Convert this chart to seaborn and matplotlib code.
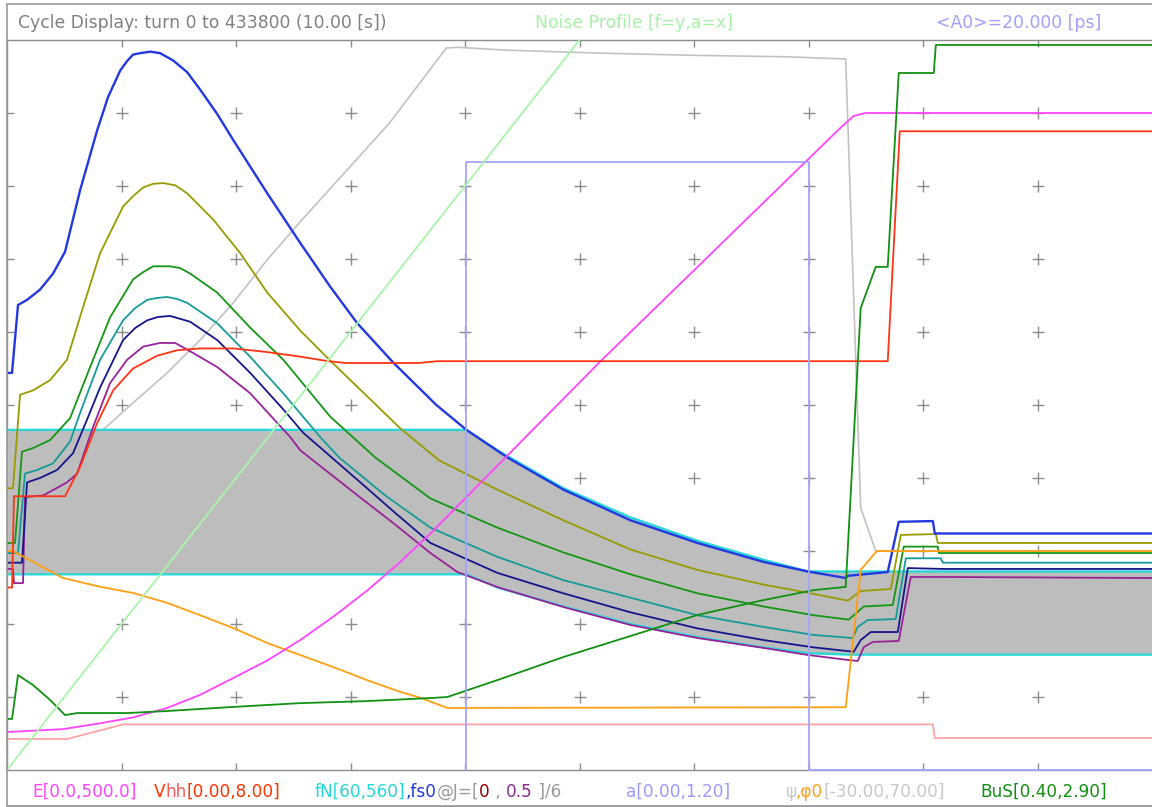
import numpy as np
import matplotlib
matplotlib.use("Agg")
import matplotlib.pyplot as plt
from matplotlib.lines import Line2D
import seaborn as sns

sns.set_theme(style="white")
plt.rcParams["font.family"] = ["DejaVu Sans"]
plt.rcParams["axes.grid"] = False

W, H, DPI = 1152, 807, 100
T_END = 10.0

# ---- synchrotron cycle, time in seconds ----
# synchrotron frequency fs0 [Hz] for J = 0, 0.1 ... 0.5
fs0_j0_t = [0, 0.044, 0.096, 0.175, 0.288, 0.402, 0.507, 0.638, 0.787, 0.883, 0.988, 1.049, 1.101, 1.163,
            1.250, 1.337, 1.451, 1.573, 1.687, 1.836, 1.976, 2.273, 2.561, 2.823, 3.059, 3.374, 3.750, 4.012,
            4.371, 4.860, 5.446, 6.031, 6.608, 6.993, 7.325, 7.343, 7.692, 7.788, 8.086, 8.103, 10.0]
fs0_j0_f = [332, 332, 378.5, 382, 389, 400, 415, 457, 498, 521, 539, 545.6, 550, 551, 552, 551, 546, 538, 526,
            509.3, 491.5, 455, 421, 391, 366, 339, 310, 293, 274, 252, 231, 215.5, 202.5, 196, 191.5, 193,
            195.6, 230, 230.5, 222, 222]

fs0_j1_t = [0, 0.052, 0.114, 0.227, 0.376, 0.524, 0.664, 0.813, 1.014, 1.101, 1.189, 1.276, 1.364, 1.469,
            1.573, 1.801, 2.037, 2.273, 2.561, 2.815, 3.435, 3.776, 4.283, 4.860, 5.446, 6.031, 6.608, 7.019,
            7.343, 7.386, 7.456, 7.719, 7.806, 8.112, 8.129, 10.0]
fs0_j1_f = [253, 253, 317, 320, 327, 341, 377, 414, 446, 453, 459, 461.5, 462, 460.5, 455, 437, 414, 387, 361,
            341, 294, 272, 252, 231, 211, 197, 187, 181, 176, 178.5, 182.6, 184, 221, 221.6, 215.5, 215.5]

fs0_j2_t = [0, 0.070, 0.131, 0.227, 0.376, 0.551, 0.726, 0.900, 1.101, 1.189, 1.276, 1.425, 1.512, 1.600,
            1.836, 2.124, 2.413, 2.823, 3.217, 3.698, 4.283, 4.860, 5.446, 6.031, 6.608, 7.045, 7.351, 7.395,
            7.483, 7.736, 7.832, 8.129, 8.138, 10.0]
fs0_j2_f = [215.5, 215.5, 278, 280.5, 286, 301, 336, 370, 396, 401, 405, 405, 403.8, 400, 387, 363, 341, 302,
            274, 246, 226, 209, 194, 181, 172, 166, 163, 166, 172, 173, 213, 213, 208.6, 208.6]

fs0_j3_t = [0, 0.096, 0.157, 0.262, 0.402, 0.551, 0.638, 0.813, 1.014, 1.119, 1.224, 1.311, 1.399, 1.486,
            1.573, 1.836, 2.124, 2.413, 2.736, 2.902, 3.304, 3.698, 4.283, 4.860, 5.446, 6.031, 6.608, 7.045,
            7.386, 7.430, 7.517, 7.762, 7.850, 8.155, 8.173, 10.0]
fs0_j3_f = [208.6, 208.6, 263, 265.5, 270, 285, 304.5, 341, 368, 376.4, 382, 383.3, 384, 382.6, 380, 366, 343,
            318, 288, 274, 248, 226, 206, 190, 178, 166, 158, 152.5, 150.4, 158, 162.7, 163.4, 205, 205, 202,
            202]

fs0_j4_t = [0, 0.131, 0.175, 0.288, 0.437, 0.577, 0.699, 0.813, 1.014, 1.119, 1.224, 1.320, 1.425, 1.600,
            1.836, 2.124, 2.413, 2.587, 3.086, 3.392, 3.698, 4.283, 4.860, 5.446, 6.031, 6.608, 7.045, 7.395,
            7.456, 7.544, 7.780, 7.867, 8.182, 10.0]
fs0_j4_f = [202, 202, 257, 260, 265.5, 277, 300, 322, 354.5, 362.7, 368, 370.3, 371, 367, 354.5, 332, 307, 291,
            257, 236, 215.5, 195, 181, 168, 157, 149, 144, 141, 149, 154.5, 154.5, 198.3, 197.7, 197.7]

fs0_j5_t = [0, 0.052, 0.061, 0.140, 0.157, 0.315, 0.524, 0.612, 0.752, 0.900, 1.049, 1.189, 1.337, 1.469,
            1.626, 1.836, 2.124, 2.474, 2.561, 3.086, 3.392, 3.698, 3.934, 4.283, 4.860, 5.446, 6.031, 6.608,
            6.993, 7.351, 7.430, 7.483, 7.561, 7.788, 7.893, 8.199, 10.0]
fs0_j5_f = [197.7, 197.7, 188, 188, 247, 248, 257, 263, 295, 325, 341, 350, 352.5, 352.5, 345.6, 336, 318, 288,
            279, 246.6, 228, 208.6, 195.6, 185.3, 171.6, 159.3, 150.4, 143.6, 138.8, 135.3, 134.7, 144.2, 147.7,
            148.4, 192.2, 192.2, 191.5]

# bucket frequency band fN [Hz]
band_t = [0, 4.012, 4.283, 4.371, 4.860, 5.446, 6.031, 6.608, 6.993, 7.351, 10.0]
band_hi = [293, 293, 279, 275, 253, 233, 217, 204, 196, 196, 196]
band_lo = [194, 194, 185, 183, 172, 160, 151, 144, 140, 139, 139]

# RF voltages Vhh [kV]
vhh_t = [0, 0.044, 0.061, 0.507, 0.638, 0.787, 0.927, 1.101, 1.311, 1.486, 1.687, 1.976, 2.273, 2.561, 2.806,
         2.963, 3.593, 3.759, 7.692, 7.797, 10.0]
vhh_v = [2.0, 2.0, 3.0, 3.0, 3.32, 3.80, 4.16, 4.40, 4.54, 4.60, 4.62, 4.62, 4.58, 4.53, 4.48, 4.46, 4.46, 4.48,
         4.48, 7.0, 7.0]
vhh2_t = [0, 0.524, 1.014, 8.086, 8.103, 10.0]
vhh2_v = [0.34, 0.34, 0.50, 0.50, 0.35, 0.35]

# beam energy E [MeV]
e_t = [0, 0.490, 0.813, 1.101, 1.399, 1.687, 1.976, 2.273, 2.561, 2.850, 3.147, 3.435, 3.698, 5.184, 7.019,
       7.281, 7.395, 7.500, 10.0]
e_v = [26, 28, 32, 36, 42.5, 51.5, 63, 75, 89, 105, 123, 142.5, 162, 280, 420, 440, 448, 450, 450]

# phases psi and phi0 [deg]
psi_t = [0, 0.839, 1.101, 1.399, 1.687, 1.976, 2.273, 2.561, 3.339, 3.837, 3.934, 4.371, 5.184,
         5.997, 6.810, 7.325, 7.456, 7.587, 10.0]
psi_v = [4.9, 16.6, 20.3, 24.4, 28.9, 34.0, 39.9, 45.1, 58.6, 68.9, 69.0, 68.6, 68.2, 67.9, 67.7,
         67.4, 5.9, 0, 0]
phi_t = [0, 0.052, 0.490, 0.813, 1.101, 1.399, 1.687, 1.976, 2.273, 2.561, 2.850, 3.147, 3.435, 3.610, 3.846,
         7.325, 7.456, 7.597, 10.0]
phi_v = [0, 0, -3.7, -4.9, -5.75, -7.1, -8.8, -10.55, -12.6, -14.25, -15.9, -17.7, -19.3, -20.1, -21.5, -21.4,
         -2.6, 0, 0]

# bunching factor BuS
bus_t = [0, 0.044, 0.096, 0.227, 0.376, 0.507, 0.612, 1.049, 1.399, 1.976, 2.561, 3.147, 3.724, 3.846, 4.283,
         4.860, 5.446, 6.031, 6.608, 7.045, 7.325, 7.456, 7.587, 7.692, 7.788, 8.094, 8.112, 10.0]
bus_v = [0.575, 0.575, 0.725, 0.691, 0.640, 0.588, 0.595, 0.595, 0.602, 0.616, 0.629, 0.636, 0.647, 0.650, 0.708,
         0.787, 0.859, 0.931, 0.982, 1.016, 1.027, 1.982, 2.123, 2.123, 2.787, 2.787, 2.883, 2.883]

# noise amplitude window a
a_t = [4.01, 4.01, 7.006, 7.006, 10.0]
a_v = [0, 1.0, 1.0, 0, 0]

# noise profile (a on x, f on y, as fractions)
noise_a = [0.0, 0.5]
noise_f = [0.0, 1.0]

# display ranges for each quantity
RANGE_F = (60, 560)
RANGE_E = (0.0, 500.0)
RANGE_V = (0.0, 8.0)
RANGE_A = (0.0, 1.2)
RANGE_PHI = (-30.0, 70.0)
RANGE_BUS = (0.40, 2.90)

GRID = "#8c8c8c"

fig = plt.figure(figsize=(W / DPI, H / DPI), dpi=DPI, facecolor="white")


def fx(px):
    return px / W


def fy(py):
    return 1 - py / H


AX_L, AX_R, AX_T, AX_B = 7, 1152, 40, 770
rect = [fx(AX_L), fy(AX_B), (AX_R - AX_L) / W, (AX_B - AX_T) / H]

ax = fig.add_axes(rect)
ax.set_facecolor("white")
ax.set_xlim(0, T_END)
ax.set_ylim(0, 10)
ax.set_xticks(range(1, 10))
ax.set_yticks(range(1, 10))
ax.tick_params(axis="x", which="both", direction="in", top=True, bottom=True, length=5, width=1,
               color=GRID, labelbottom=False, labeltop=False)
ax.tick_params(axis="y", which="both", direction="in", left=True, right=False, length=5, width=1,
               color=GRID, labelleft=False)
for side in ("top", "left", "bottom"):
    ax.spines[side].set_color(GRID)
    ax.spines[side].set_linewidth(1.0)
ax.spines["right"].set_visible(False)

# cross marks at each grid node
gx, gy = np.meshgrid(np.arange(1, 10), np.arange(1, 10))
ax.plot(gx.ravel(), gy.ravel(), ls="none", marker="+", ms=8, mew=1.0, color=GRID)


def layer(lims):
    lay = ax.twinx()
    lay.set_ylim(*lims)
    lay.set_xlim(0, T_END)
    lay.axis("off")
    return lay


def trace(lay, t, v, color, lw=1.3, **kw):
    sns.lineplot(x=t, y=v, ax=lay, color=color, linewidth=lw, estimator=None, sort=False, **kw)


# psi sits beneath the frequency band
lay_psi = layer(RANGE_PHI)
trace(lay_psi, psi_t, psi_v, "#c2c2c2", lw=1.2)

lay_f = layer(RANGE_F)
lay_f.fill_between(band_t, band_lo, band_hi, color="#bdbdbd", lw=0, zorder=1)
trace(lay_f, band_t, band_hi, "#22d8d8", lw=1.6, zorder=2)
trace(lay_f, band_t, band_lo, "#22d8d8", lw=1.6, zorder=2)
fs0_series = [
    (fs0_j5_t, fs0_j5_f, "#992299"),
    (fs0_j4_t, fs0_j4_f, "#14148c"),
    (fs0_j3_t, fs0_j3_f, "#179a9a"),
    (fs0_j2_t, fs0_j2_f, "#159615"),
    (fs0_j1_t, fs0_j1_f, "#9a9a00"),
]
for t, f, c in fs0_series:
    trace(lay_f, t, f, c, lw=1.3, zorder=3)
trace(lay_f, fs0_j0_t, fs0_j0_f, "#2238e0", lw=1.7, zorder=4)

lay_phi = layer(RANGE_PHI)
trace(lay_phi, phi_t, phi_v, "#ffa010", lw=1.3)

lay_e = layer(RANGE_E)
trace(lay_e, e_t, e_v, "#ff44ff", lw=1.3)

lay_v = layer(RANGE_V)
trace(lay_v, vhh2_t, vhh2_v, "#ffa4a4", lw=1.3)
trace(lay_v, vhh_t, vhh_v, "#ff3412", lw=1.3)

lay_b = layer(RANGE_BUS)
trace(lay_b, bus_t, bus_v, "#119011", lw=1.3)

lay_a = layer(RANGE_A)
trace(lay_a, a_t, a_v, "#a4a4ff", lw=1.3, clip_on=False)

lay_n = layer((0, 1))
trace(lay_n, np.array(noise_a) * T_END, noise_f, "#a8f4a8", lw=1.3)

# frame around the header and the scale row
for xs, ys, lw in [((7, 1152), (3.5, 3.5), 1.2), ((7, 7), (3.5, 806), 1.2), ((7, 1152), (805.5, 805.5), 2.0)]:
    fig.add_artist(Line2D([fx(x) for x in xs], [fy(y) for y in ys], color="#9a9a9a", lw=lw))

renderer = fig.canvas.get_renderer()


def text_run(x_px, y_px, pieces, size=12):
    prefix = ""
    for s, c in pieces:
        adv = 0.0
        if prefix:
            probe = fig.text(0, 0, prefix + "I", fontsize=size)
            ref = fig.text(0, 0, "I", fontsize=size)
            adv = probe.get_window_extent(renderer).width - ref.get_window_extent(renderer).width
            probe.remove()
            ref.remove()
        fig.text(fx(x_px + adv), fy(y_px), s, color=c, fontsize=size, va="baseline", ha="left")
        prefix += s


# header
HEAD = 12.4
text_run(18, 28, [("Cycle Display: turn 0 to 433800 (10.00 [s])", "#808080")], HEAD)
text_run(535, 28, [("Noise Profile [f=y,a=x]", "#a8f0a8")], HEAD)
text_run(936, 28, [("<A0>=20.000 [ps]", "#a0a0ff")], HEAD)

# scale row
BASE = 797
FOOT = 12.2
text_run(32, BASE, [("E[0.0,500.0]", "#ff44ff")], FOOT)
text_run(154, BASE, [("V", "#ff3300"), ("hh", "#ff5a5a"), ("[0.00,8.00]", "#ff3300")], FOOT)
text_run(315, BASE, [("fN[60,560]", "#22d8d8"), (",fs0", "#2238e0"), ("@J=[", "#999999"),
                     ("0", "#990000"), (" , ", "#999999"), ("0.5", "#8a2a8a"), (" ]/6", "#999999")], FOOT)
text_run(626, BASE, [("a[0.00,1.20]", "#9999ff")], FOOT)
text_run(785, BASE, [("ψ", "#c8c8c8"), (",φ0", "#ffa020"), ("[-30.00,70.00]", "#c8c8c8")], FOOT)
text_run(980, BASE, [("BuS[0.40,2.90]", "#119011")], FOOT)

fig.savefig("out.png", dpi=DPI, facecolor="white")
